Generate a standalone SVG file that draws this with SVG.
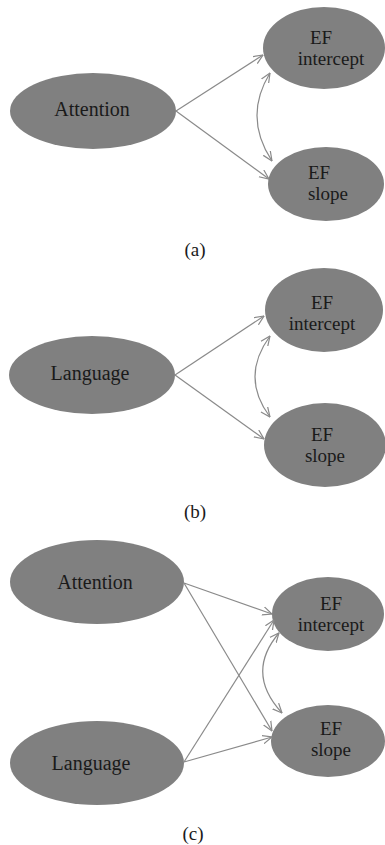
<svg xmlns="http://www.w3.org/2000/svg" width="385" height="845" viewBox="0 0 385 845">
<style>
.n{fill:#808080}
.t{font-family:"Liberation Serif","Times New Roman",serif;font-size:20px;fill:#1a1a1a;text-anchor:middle}
.t2{font-family:"Liberation Serif","Times New Roman",serif;font-size:19px;fill:#1a1a1a;text-anchor:middle}
.c{fill:none;stroke:#8a8a8a;stroke-width:1.2}
.lbl{font-family:"Liberation Serif","Times New Roman",serif;font-size:19px;fill:#1a1a1a;text-anchor:middle}
</style>
<defs>
<marker id="ah" viewBox="0 0 10 10" refX="9.5" refY="5" markerWidth="10" markerHeight="10" markerUnits="userSpaceOnUse" orient="auto-start-reverse">
<path d="M0,0.8 L9.5,5 L0,9.2" fill="none" stroke="#8a8a8a" stroke-width="1.2"/>
</marker>
</defs>
<rect width="385" height="845" fill="#ffffff"/>

<!-- Panel (a) -->
<g id="a-attention"><ellipse class="n" cx="93" cy="111" rx="83" ry="38"/><text class="t" x="92" y="116">Attention</text></g>
<g id="a-intercept"><ellipse class="n" cx="324" cy="48" rx="61" ry="41"/><text class="t2" x="321" y="44">EF</text><text class="t2" x="331" y="65">intercept</text></g>
<g id="a-slope"><ellipse class="n" cx="326" cy="184" rx="58" ry="37"/><text class="t2" x="319" y="179">EF</text><text class="t2" x="328" y="200">slope</text></g>
<text class="lbl" x="195" y="256">(a)</text>

<!-- Panel (b) -->
<g id="b-language"><ellipse class="n" cx="92" cy="375" rx="83" ry="39"/><text class="t" x="90" y="380">Language</text></g>
<g id="b-intercept"><ellipse class="n" cx="324" cy="310" rx="59" ry="42"/><text class="t2" x="322" y="309">EF</text><text class="t2" x="322" y="330">intercept</text></g>
<g id="b-slope"><ellipse class="n" cx="325" cy="445" rx="61" ry="42"/><text class="t2" x="322" y="441">EF</text><text class="t2" x="325" y="462">slope</text></g>
<text class="lbl" x="195" y="518">(b)</text>

<!-- Panel (c) -->
<g id="c-attention"><ellipse class="n" cx="97" cy="582" rx="87" ry="42"/><text class="t" x="95" y="589">Attention</text></g>
<g id="c-language"><ellipse class="n" cx="97" cy="763" rx="87" ry="42"/><text class="t" x="91" y="770">Language</text></g>
<g id="c-intercept"><ellipse class="n" cx="328" cy="614" rx="56" ry="37"/><text class="t2" x="331" y="610">EF</text><text class="t2" x="331" y="631">intercept</text></g>
<g id="c-slope"><ellipse class="n" cx="328" cy="741" rx="57" ry="36"/><text class="t2" x="331" y="735">EF</text><text class="t2" x="331" y="756">slope</text></g>
<text class="lbl" x="193" y="840">(c)</text>

<g id="connectors">
<line class="c" x1="176" y1="111" x2="263" y2="55" marker-end="url(#ah)"/>
<line class="c" x1="176" y1="111" x2="269" y2="179" marker-end="url(#ah)"/>
<path class="c" d="M270,73 Q243,117 272,161" marker-start="url(#ah)" marker-end="url(#ah)"/>

<line class="c" x1="175" y1="375" x2="264" y2="316" marker-end="url(#ah)"/>
<line class="c" x1="175" y1="375" x2="264" y2="439" marker-end="url(#ah)"/>
<path class="c" d="M270,336 Q240,377 270,417" marker-start="url(#ah)" marker-end="url(#ah)"/>

<line class="c" x1="184" y1="583" x2="272" y2="614" marker-end="url(#ah)"/>
<line class="c" x1="184" y1="583" x2="272" y2="731" marker-end="url(#ah)"/>
<line class="c" x1="184" y1="762" x2="274" y2="620" marker-end="url(#ah)"/>
<line class="c" x1="184" y1="762" x2="272" y2="737" marker-end="url(#ah)"/>
<path class="c" d="M279,633 Q245,673 282,713" marker-start="url(#ah)" marker-end="url(#ah)"/>
</g>
</svg>
